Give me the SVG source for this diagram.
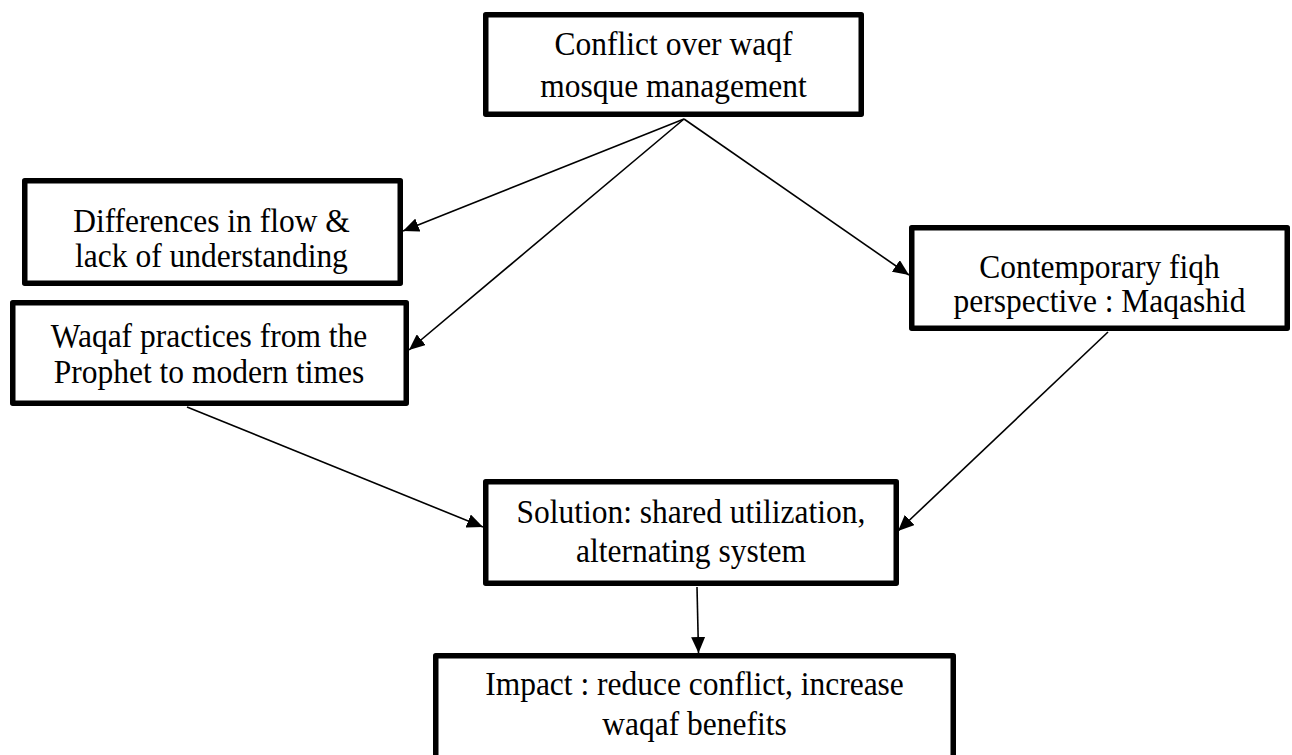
<svg xmlns="http://www.w3.org/2000/svg" width="1292" height="755" viewBox="0 0 1292 755">
<style>
.box{fill:#fff;stroke:#000;stroke-width:5.5;stroke-linejoin:round}
.t{font-family:"Liberation Serif","Times New Roman",serif;font-size:34.5px;fill:#000;text-anchor:middle}
.c{stroke:#000;stroke-width:1.6;fill:none;marker-end:url(#ah)}
</style>
<defs>
<marker id="ah" markerUnits="userSpaceOnUse" markerWidth="17" markerHeight="14" refX="16" refY="7" orient="auto">
<path d="M0,0 L16,7 L0,14 z" fill="#000"/>
</marker>
</defs>
<rect width="1292" height="755" fill="#fff"/>
<g id="connectors">
<line class="c" x1="684" y1="119" x2="403" y2="231"/>
<line class="c" x1="684" y1="119" x2="409" y2="350"/>
<line class="c" x1="684" y1="119" x2="909" y2="275"/>
<line class="c" x1="1108" y1="332" x2="898" y2="531"/>
<line class="c" x1="187" y1="407" x2="483" y2="527"/>
<line class="c" x1="697" y1="587" x2="698.5" y2="653"/>
</g>
<g id="conflict">
<rect class="box" x="485.75" y="14.75" width="375.5" height="99.5"/>
<g transform="scale(0.913 1)">
<text class="t" x="737.7" y="55">Conflict over waqf</text>
<text class="t" x="737.7" y="97">mosque management</text>
</g>
</g>
<g id="differences">
<rect class="box" x="24.75" y="180.75" width="375.5" height="102.5"/>
<g transform="scale(0.913 1)">
<text class="t" x="231.65" y="232">Differences in flow &amp;</text>
<text class="t" x="231.65" y="267">lack of understanding</text>
</g>
</g>
<g id="waqaf">
<rect class="box" x="12.75" y="302.75" width="393.5" height="100.5"/>
<g transform="scale(0.913 1)">
<text class="t" x="228.9" y="347">Waqaf practices from the</text>
<text class="t" x="228.9" y="383">Prophet to modern times</text>
</g>
</g>
<g id="contemporary">
<rect class="box" x="911.75" y="227.75" width="375.5" height="100.5"/>
<g transform="scale(0.913 1)">
<text class="t" x="1204.3" y="278">Contemporary fiqh</text>
<text class="t" x="1204.3" y="312">perspective : Maqashid</text>
</g>
</g>
<g id="solution">
<rect class="box" x="485.75" y="481.75" width="410.5" height="101.5"/>
<g transform="scale(0.913 1)">
<text class="t" x="756.8" y="523">Solution: shared utilization,</text>
<text class="t" x="756.8" y="562">alternating system</text>
</g>
</g>
<g id="impact">
<rect class="box" x="435.75" y="655.75" width="517.5" height="120"/>
<g transform="scale(0.913 1)">
<text class="t" x="760.7" y="695">Impact : reduce conflict, increase</text>
<text class="t" x="760.7" y="735">waqaf benefits</text>
</g>
</g>
</svg>
